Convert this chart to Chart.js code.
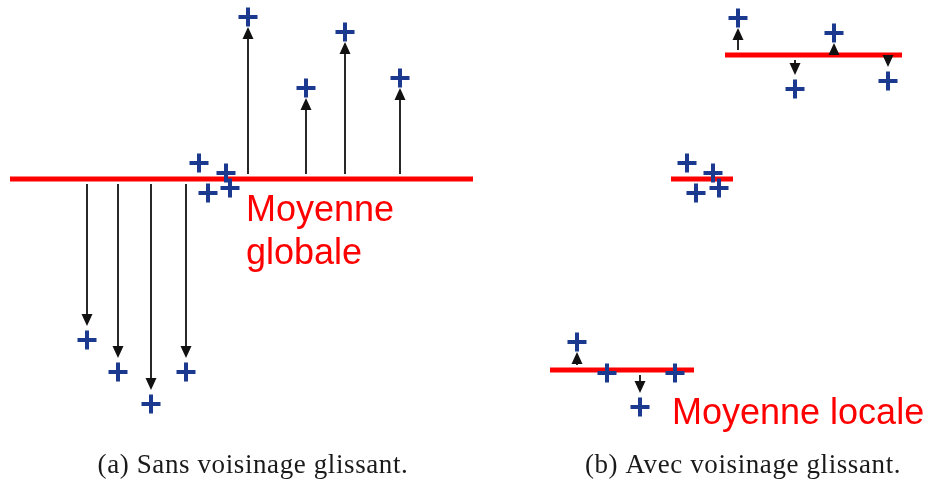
<!DOCTYPE html>
<html>
<head>
<meta charset="utf-8">
<script src="https://cdn.jsdelivr.net/npm/chart.js@4.4.1/dist/chart.umd.min.js"></script>
<style>
  html, body { margin: 0; padding: 0; background: #fff; }
  canvas { display: block; }
</style>
</head>
<body>
<canvas id="chart" width="930" height="480"></canvas>
<script>
// (a) one global mean for every sample
const globalMeanY = 179;
const globalSpan = [10, 473];
const samplesAX = [87, 118, 151, 186, 199, 208, 226, 230, 248, 306, 345, 400];
const samplesAY = [340, 372, 404, 372, 163, 193, 173, 188, 17, 88, 32, 78];

// (b) local means, one per sliding neighbourhood
const localMeanY = [55, 179, 370];
const localSpans = [[725, 902], [671, 733], [550, 694]];
const samplesBX = [[738, 795, 834, 888], [687, 696, 713, 719], [577, 607, 640, 675]];
const samplesBY = [[18, 89, 33, 81], [163, 193, 173, 188], [342, 373, 407, 373]];

const meanLabels = ['Moyenne', 'globale', 'Moyenne locale'];
const captions = ['(a) Sans voisinage glissant.', '(b) Avec voisinage glissant.'];

const BLUE = '#1b3a8f';
const RED = '#ff0000';

// every neighbourhood: its mean, its extent and its samples
const groups = [
  { mean: globalMeanY, span: globalSpan, xs: samplesAX, ys: samplesAY },
  ...localMeanY.map((m, i) => ({ mean: m, span: localSpans[i], xs: samplesBX[i], ys: samplesBY[i] })),
];

const points = groups.flatMap((g) => g.xs.map((x, i) => ({ x, y: g.ys[i] })));

const meanLines = groups.map((g) => ({
  type: 'line',
  data: g.span.map((x) => ({ x, y: g.mean })),
  borderColor: RED,
  borderWidth: 5,
  borderCapStyle: 'butt',
  pointRadius: 0,
  order: 2,
  clip: false,
}));

// residual arrows from the mean to the samples that lie clearly off it
const arrowPlugin = {
  id: 'arrows',
  afterDatasetsDraw(chart) {
    const { ctx, scales: { x, y } } = chart;
    ctx.save();
    ctx.strokeStyle = '#111';
    ctx.fillStyle = '#111';
    ctx.lineWidth = 1.8;
    groups.forEach((g) => {
      const pm = y.getPixelForValue(g.mean);
      g.xs.forEach((vx, i) => {
        if (Math.abs(g.ys[i] - g.mean) <= 20) return;
        const px = x.getPixelForValue(vx);
        const py = y.getPixelForValue(g.ys[i]);
        const dir = Math.sign(py - pm);
        const start = pm + dir * 5;
        const tip = py - dir * (dir < 0 ? 10 : 14);
        const base = tip - dir * 12;
        ctx.beginPath();
        ctx.moveTo(px, start);
        ctx.lineTo(px, base);
        ctx.stroke();
        ctx.beginPath();
        ctx.moveTo(px, tip);
        ctx.lineTo(px - 5.5, base);
        ctx.lineTo(px + 5.5, base);
        ctx.closePath();
        ctx.fill();
      });
    });
    ctx.restore();
  },
};

const textPlugin = {
  id: 'texts',
  afterDraw(chart) {
    const { ctx, scales: { x, y } } = chart;
    ctx.save();
    ctx.fillStyle = RED;
    ctx.font = '36px "Liberation Sans", Arial, sans-serif';
    ctx.textBaseline = 'alphabetic';
    ctx.textAlign = 'left';
    ctx.fillText(meanLabels[0], x.getPixelForValue(246), y.getPixelForValue(221));
    ctx.fillText(meanLabels[1], x.getPixelForValue(246), y.getPixelForValue(264));
    ctx.fillText(meanLabels[2], x.getPixelForValue(672), y.getPixelForValue(424));

    ctx.fillStyle = '#1a1a1a';
    ctx.font = '27px "Liberation Serif", "Times New Roman", serif';
    ctx.letterSpacing = '0.6px';
    ctx.textAlign = 'center';
    ctx.fillText(captions[0], x.getPixelForValue(253), y.getPixelForValue(473));
    ctx.fillText(captions[1], x.getPixelForValue(743), y.getPixelForValue(473));
    ctx.restore();
  },
};

new Chart(document.getElementById('chart'), {
  type: 'scatter',
  data: {
    datasets: [
      {
        data: points,
        pointStyle: 'cross',
        pointRadius: 9.5,
        pointBorderWidth: 4,
        borderColor: BLUE,
        backgroundColor: BLUE,
        order: 0,
        clip: false,
      },
      ...meanLines,
    ],
  },
  options: {
    responsive: false,
    animation: false,
    devicePixelRatio: 1,
    layout: { padding: 0, autoPadding: false },
    scales: {
      x: { type: 'linear', min: 0, max: 930, display: false },
      y: { type: 'linear', min: 0, max: 480, reverse: true, display: false },
    },
    plugins: {
      legend: { display: false },
      tooltip: { enabled: false },
    },
  },
  plugins: [arrowPlugin, textPlugin],
});
</script>
</body>
</html>
